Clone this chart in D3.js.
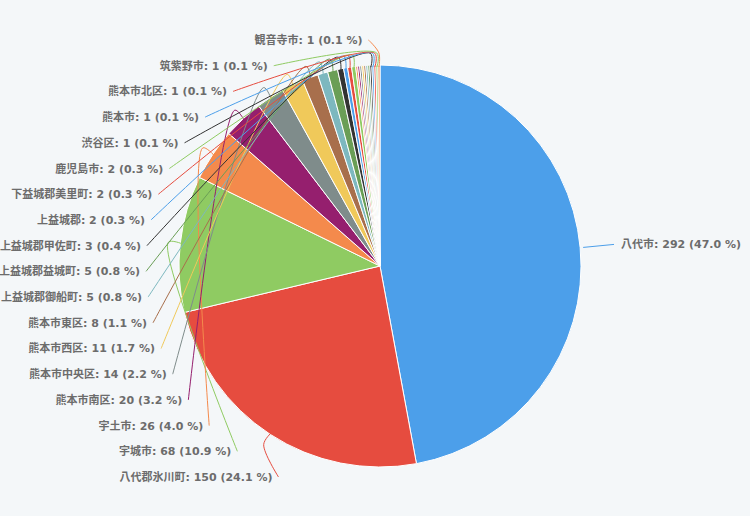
<!DOCTYPE html>
<html>
<head>
<meta charset="utf-8">
<script src="https://cdn.jsdelivr.net/npm/d3@7/dist/d3.min.js"></script>
<style>
  html, body { margin: 0; padding: 0; background: #f4f7f9; }
  svg { display: block; }
</style>
</head>
<body>
<svg id="chart" width="750" height="516"></svg>
<script>
// ---- data ----
const categories = ["八代市","八代郡氷川町","宇城市","宇土市","熊本市南区","熊本市中央区","熊本市西区","熊本市東区",
  "上益城郡御船町","上益城郡益城町","上益城郡甲佐町","上益城郡","下益城郡美里町","鹿児島市",
  "","","","","","","",
  "渋谷区","熊本市","熊本市北区","筑紫野市","観音寺市"];
const values = [292,150,68,26,20,14,11,8,5,5,3,2,2,2,1,1,1,1,1,1,1,1,1,1,1,1];
const percents = ["47.0","24.1","10.9","4.0","3.2","2.2","1.7","1.1","0.8","0.8","0.4","0.3","0.3","0.3",
  "0.1","0.1","0.1","0.1","0.1","0.1","0.1","0.1","0.1","0.1","0.1","0.1"];
const palette = ["#4c9fea","#e64c3f","#8fcb62","#f48a4c","#951f6e","#7f8c8b","#f0c95a","#a86f4c","#7db8bf","#6a9e56","#333333"];

// ---- layout ----
const W = 750, H = 516;
const cx = 380, cy = 266, R = 201;
const svg = d3.select("#chart");
svg.append("rect").attr("width", W).attr("height", H).attr("fill", "#f4f7f9");

const items = categories.map((c, i) => ({ name: c, value: values[i], pct: percents[i], idx: i }));
const color = d3.scaleOrdinal().domain(d3.range(items.length)).range(palette);

const pie = d3.pie().value(d => d.value).sort(null).startAngle(0).endAngle(2 * Math.PI);
const arcs = pie(items);
const arc = d3.arc().innerRadius(0).outerRadius(R);

const g = svg.append("g").attr("transform", `translate(${cx},${cy})`);
g.selectAll("path.slice").data(arcs).enter().append("path")
  .attr("class", "slice")
  .attr("d", arc)
  .attr("fill", d => color(d.data.idx))
  .attr("stroke", "#ffffff")
  .attr("stroke-width", 1);

function pt(angle, r) { return [cx + r * Math.sin(angle), cy - r * Math.cos(angle)]; }

const labeled = arcs.filter(d => d.data.name !== "");
const right = labeled.filter(d => (d.startAngle + d.endAngle) / 2 < Math.PI);
const left = labeled.filter(d => (d.startAngle + d.endAngle) / 2 >= Math.PI);

const slotBottom = 477, slotTop = 40;
const step = (slotBottom - slotTop) / (left.length - 1);
const Rx = 240;
const lineLayer = svg.append("g");
const textLayer = svg.append("g");
const font = "'DejaVu Sans', 'Noto Sans CJK JP', sans-serif";
const curve = d3.line().curve(d3.curveCatmullRom.alpha(0.5));

left.forEach((d, k) => {
  const y = slotBottom - k * step;
  const dy = y - cy;
  const Ry = dy < 0 ? 226.6 : 236;
  const endX = cx - Rx * Math.sqrt(Math.max(0, 1 - (dy / Ry) * (dy / Ry)));
  const mid = (d.startAngle + d.endAngle) / 2;
  const outer = pt(mid, R + 12);
  const inner = pt(mid, R - 2);
  lineLayer.append("path")
    .attr("d", curve([[endX + 6, y], outer, inner]))
    .attr("fill", "none")
    .attr("stroke", color(d.data.idx))
    .attr("stroke-width", 1);
  textLayer.append("text")
    .attr("x", endX).attr("y", y + 4)
    .attr("text-anchor", "end")
    .attr("font-family", font).attr("font-size", 11).attr("font-weight", "bold")
    .attr("fill", "#6c6c6c")
    .text(`${d.data.name}: ${d.data.value} (${d.data.pct} %)`);
});

right.forEach(d => {
  const mid = (d.startAngle + d.endAngle) / 2;
  const p0 = pt(mid, R + 3);
  const y = p0[1] - 2;
  lineLayer.append("path")
    .attr("d", d3.line()([p0, [cx + R + 33, y - 1]]))
    .attr("fill", "none")
    .attr("stroke", color(d.data.idx))
    .attr("stroke-width", 1);
  textLayer.append("text")
    .attr("x", cx + R + 40).attr("y", y + 3)
    .attr("text-anchor", "start")
    .attr("font-family", font).attr("font-size", 11).attr("font-weight", "bold")
    .attr("fill", "#6c6c6c")
    .text(`${d.data.name}: ${d.data.value} (${d.data.pct} %)`);
});
</script>
</body>
</html>
